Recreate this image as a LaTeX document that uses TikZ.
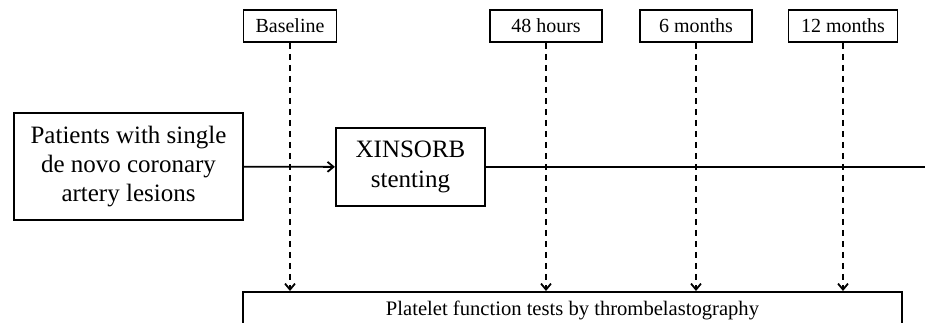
\documentclass[tikz,border=0pt]{standalone}
\usepackage{fontspec}
\setmainfont{Liberation Serif}
\usetikzlibrary{arrows.meta}
\begin{document}
\begin{tikzpicture}[x=0.5pt, y=-0.5pt]
        % Common styles
        \tikzstyle{bigbox}=[draw, line width=1.1pt, align=center, inner sep=0pt, font=\fontsize{12.5}{14.6}\selectfont]
        \tikzstyle{timebox}=[draw, line width=0.9pt, inner sep=0pt, minimum height=16pt, font=\fontsize{10}{11}\selectfont]
        \tikzstyle{flow}=[line width=0.9pt, -{Straight Barb[length=3pt, width=5pt]}]
        \tikzstyle{testline}=[line width=0.9pt, dash pattern=on 3pt off 2.5pt, -{Straight Barb[length=3pt, width=5pt]}]

        \useasboundingbox (0,0) rectangle (925,322);

        % --- Main flow ---
        \node[bigbox, minimum width=114.5pt, minimum height=53.5pt] (patients) at (128.5,166.5) {Patients with single\\de novo coronary\\artery lesions};
        \node[bigbox, minimum width=74.5pt, minimum height=39pt] (stent) at (410.5,167) {XINSORB\\stenting};
        \coordinate (flowend) at (925,167);
        \draw[flow] (patients) -- (stent);
        \draw[line width=0.9pt] (stent) -- (flowend);

        % --- Time points ---
        \node[timebox, minimum width=46.5pt] (base) at (290,26) {Baseline};
        \node[timebox, minimum width=56pt] (hours) at (546,26) {48 hours};
        \node[timebox, minimum width=56pt] (sixm) at (696,26) {6 months};
        \node[timebox, minimum width=54.5pt] (twelvem) at (843,26) {12 months};

        % --- Tests ---
        \node[draw, line width=1.1pt, anchor=north, minimum width=329.5pt, minimum height=18pt, inner sep=0pt, font=\fontsize{10.3}{11}\selectfont] (tests) at (572.5,291) {Platelet function tests by thrombelastography};

        \foreach \t in {base, hours, sixm, twelvem}
            \draw[testline] (\t.south) -- (\t.south |- tests.north);

    \end{tikzpicture}
\end{document}
